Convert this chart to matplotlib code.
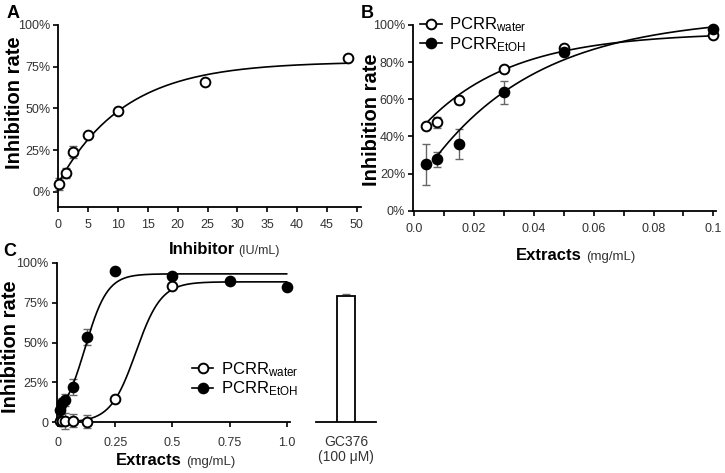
import numpy as np
import matplotlib
matplotlib.use('Agg')
import matplotlib.pyplot as plt
from matplotlib.lines import Line2D

plt.rcParams['font.family'] = ['Liberation Sans', 'DejaVu Sans']
plt.rcParams['mathtext.fontset'] = 'custom'
plt.rcParams['mathtext.rm'] = 'Liberation Sans'
plt.rcParams['mathtext.it'] = 'Liberation Sans:italic'
plt.rcParams['mathtext.bf'] = 'Liberation Sans:bold'

# ---------------- data ----------------
# Panel A
a_dose = [0.2, 1.25, 2.5, 5, 10, 24.5, 48.5]
a_inhib = [4.6, 11, 24, 34, 48.4, 66, 80]
a_err = [3.5, 3, 3.5, 1, 1, 1, 1]
a_fit = (5, 78, 0.09)          # y0, plateau, k  (one-phase association)

# Panel B
b_dose = [0.00375, 0.0075, 0.015, 0.03, 0.05, 0.1]
b_water = [45.5, 47.6, 59.6, 76.1, 87.8, 94.6]
b_water_err = [1, 3, 2, 1.5, 1, 1]
b_etoh = [25, 27.6, 35.9, 63.7, 85.6, 97.7]
b_etoh_err = [11, 4, 8, 6, 1, 1]
b_water_fit = (40, 96, 34.3)
b_etoh_fit = (12, 105, 27.3)

# Panel C
c_water_dose = [0.0078, 0.0156, 0.03125, 0.0625, 0.125, 0.25, 0.5]
c_water = [1, 1, 1, 1, 0.5, 14.6, 85.4]
c_water_err = [1, 1, 5, 4, 4, 1, 1]
c_etoh_dose = [0.0078, 0.0156, 0.03125, 0.0625, 0.125, 0.25, 0.5, 0.75, 1.0]
c_etoh = [8, 12, 14, 22.3, 53.2, 94.8, 91.6, 88.7, 85]
c_etoh_err = [2, 3, 4, 5, 5, 1, 1, 1, 1]
c_water_fit = (0, 88, 0.34, 0.0556)   # bottom, top, V50, slope (Boltzmann)
c_etoh_fit = (0, 93, 0.117, 0.049)

gc_label = ['GC376\n(100 \u03bcM)']
gc_value = [79.3]
gc_err = [1]

legend_labels = [r'PCRR$_{\mathrm{water}}$', r'PCRR$_{\mathrm{EtOH}}$']

# ---------------- helpers ----------------
W, H = 725, 473
fig = plt.figure(figsize=(W / 100, H / 100), dpi=100)


def ax_px(l, t, r, b):
    return fig.add_axes([l / W, 1 - b / H, (r - l) / W, (b - t) / H])


def assoc(x, p):
    y0, top, k = p
    return y0 + (top - y0) * (1 - np.exp(-k * np.asarray(x)))


def boltz(x, p):
    bot, top, v50, s = p
    return bot + (top - bot) / (1 + np.exp((v50 - np.asarray(x)) / s))


TICKC = '#333333'
ERRC = '#666666'
LW = 1.2
MS = 7


def style(ax, xpad=5, ypad=2):
    for s in ['top', 'right']:
        ax.spines[s].set_visible(False)
    for s in ['left', 'bottom']:
        ax.spines[s].set_linewidth(1.3)
    ax.tick_params(axis='both', which='both', direction='out', length=3.5,
                   width=1.2, labelsize=9, labelcolor=TICKC)
    ax.tick_params(axis='x', pad=xpad)
    ax.tick_params(axis='y', pad=ypad)


def points(ax, x, y, e, filled):
    ax.errorbar(x, y, yerr=e, fmt='none', ecolor=ERRC, elinewidth=1,
                capsize=3, capthick=1, zorder=2, clip_on=False)
    ax.plot(x, y, 'o', ms=MS, mec='black', mew=1.4,
            mfc='black' if filled else 'white', zorder=4, clip_on=False)


def handles():
    return [Line2D([], [], color='black', lw=LW, marker='o', ms=MS,
                   mfc='white', mec='black', mew=1.4),
            Line2D([], [], color='black', lw=LW, marker='o', ms=MS,
                   mfc='black', mec='black', mew=1.4)]


# ---------------- Panel A ----------------
axA = ax_px(58.3, 25, 361.5, 206.7)
style(axA, xpad=5.5, ypad=2)
xa = np.linspace(0, max(a_dose), 300)
axA.plot(xa, assoc(xa, a_fit), color='black', lw=LW, zorder=3)
points(axA, a_dose, a_inhib, a_err, False)
axA.set_xlim(0, 50.8)
axA.set_ylim(-9, 100)
axA.set_xticks(np.arange(0, 51, 5))
axA.set_yticks([0, 25, 50, 75, 100])
axA.set_yticklabels(['0%', '25%', '50%', '75%', '100%'])

# ---------------- Panel B ----------------
axB = ax_px(413.4, 25, 716.3, 210.7)
style(axB, xpad=5.5, ypad=2.5)
xw = np.linspace(b_dose[0], b_dose[-1], 300)
xe = np.linspace(b_dose[1], b_dose[-1], 300)
axB.plot(xw, assoc(xw, b_water_fit), color='black', lw=LW, zorder=3)
axB.plot(xe, assoc(xe, b_etoh_fit), color='black', lw=LW, zorder=3)
points(axB, b_dose, b_water, b_water_err, False)
points(axB, b_dose, b_etoh, b_etoh_err, True)
axB.set_xlim(-0.0003, 0.101)
axB.set_ylim(0, 100)
axB.set_xticks([0, 0.02, 0.04, 0.06, 0.08, 0.1])
axB.set_xticklabels(['0.0', '0.02', '0.04', '0.06', '0.08', '0.1'])
axB.set_xticks(np.arange(0.01, 0.1, 0.02), minor=True)
axB.set_yticks([0, 20, 40, 60, 80, 100])
axB.set_yticklabels(['0%', '20%', '40%', '60%', '80%', '100%'])
axB.legend(handles(), legend_labels, loc='upper left',
           bbox_to_anchor=(0.022, 1.05), frameon=False, fontsize=12,
           borderaxespad=0, borderpad=0, handlelength=1.3,
           handletextpad=0.45, labelspacing=0.05)

# ---------------- Panel C ----------------
axC = ax_px(56.9, 262.7, 290.1, 422.3)
style(axC, xpad=7, ypad=2.5)
xcw = np.linspace(c_water_dose[0], c_water_dose[-1] * 2, 400)
xce = np.linspace(c_etoh_dose[0], c_etoh_dose[-1], 400)
axC.plot(xcw, boltz(xcw, c_water_fit), color='black', lw=LW, zorder=3)
axC.plot(xce, boltz(xce, c_etoh_fit), color='black', lw=LW, zorder=3)
points(axC, c_water_dose, c_water, c_water_err, False)
points(axC, c_etoh_dose, c_etoh, c_etoh_err, True)
axC.set_xlim(-0.006, 1.015)
axC.set_ylim(0, 100)
axC.set_xticks([0, 0.25, 0.5, 0.75, 1.0])
axC.set_xticklabels(['0', '0.25', '0.5', '0.75', '1.0'])
axC.set_yticks([0, 25, 50, 75, 100])
axC.set_yticklabels(['0', '25%', '50%', '75%', '100%'])
axC.legend(handles(), legend_labels, loc='upper left',
           bbox_to_anchor=(0.578, 0.39), frameon=False, fontsize=12,
           borderaxespad=0, borderpad=0, handlelength=1.3,
           handletextpad=0.45, labelspacing=0.05)

# ---------------- GC376 bar ----------------
axD = ax_px(316, 262.7, 376, 422.3)
style(axD)
axD.spines['left'].set_visible(False)
axD.bar([0], gc_value, width=1, color='white', edgecolor='black', lw=1.3,
        zorder=3)
axD.errorbar([0], gc_value, yerr=gc_err, fmt='none', ecolor=ERRC,
             elinewidth=1, capsize=3, zorder=2)
axD.set_xlim(-1.75, 1.75)
axD.set_ylim(0, 100)
axD.set_yticks([])
axD.set_xticks([0])
axD.set_xticklabels(gc_label, linespacing=1.15, fontsize=10)
axD.tick_params(axis='x', length=0, pad=9)

# ---------------- texts ----------------
def ftext(x, y, s, **kw):
    fig.text(x / W, 1 - y / H, s, **kw)


ftext(13, 13, 'A', fontsize=13, fontweight='bold', ha='center', va='center')
ftext(367, 13, 'B', fontsize=13, fontweight='bold', ha='center', va='center')
ftext(10, 251, 'C', fontsize=13, fontweight='bold', ha='center', va='center')

ftext(14.5, 103, 'Inhibition rate', fontsize=14.5, fontweight='bold',
      rotation=90, ha='center', va='center')
ftext(371.5, 120, 'Inhibition rate', fontsize=14.5, fontweight='bold',
      rotation=90, ha='center', va='center')
ftext(11, 347, 'Inhibition rate', fontsize=14.5, fontweight='bold',
      rotation=90, ha='center', va='center')

ftext(235, 254, 'Inhibitor', fontsize=12, fontweight='bold', ha='right',
      va='baseline')
ftext(238, 254, '(IU/mL)', fontsize=9, color=TICKC, ha='left', va='baseline')
ftext(582, 260, 'Extracts', fontsize=12, fontweight='bold', ha='right',
      va='baseline')
ftext(586, 260, '(mg/mL)', fontsize=9.5, color=TICKC, ha='left',
      va='baseline')
ftext(182, 465, 'Extracts', fontsize=12, fontweight='bold', ha='right',
      va='baseline')
ftext(186, 465, '(mg/mL)', fontsize=9.5, color=TICKC, ha='left',
      va='baseline')

fig.savefig('out.png', dpi=100)
